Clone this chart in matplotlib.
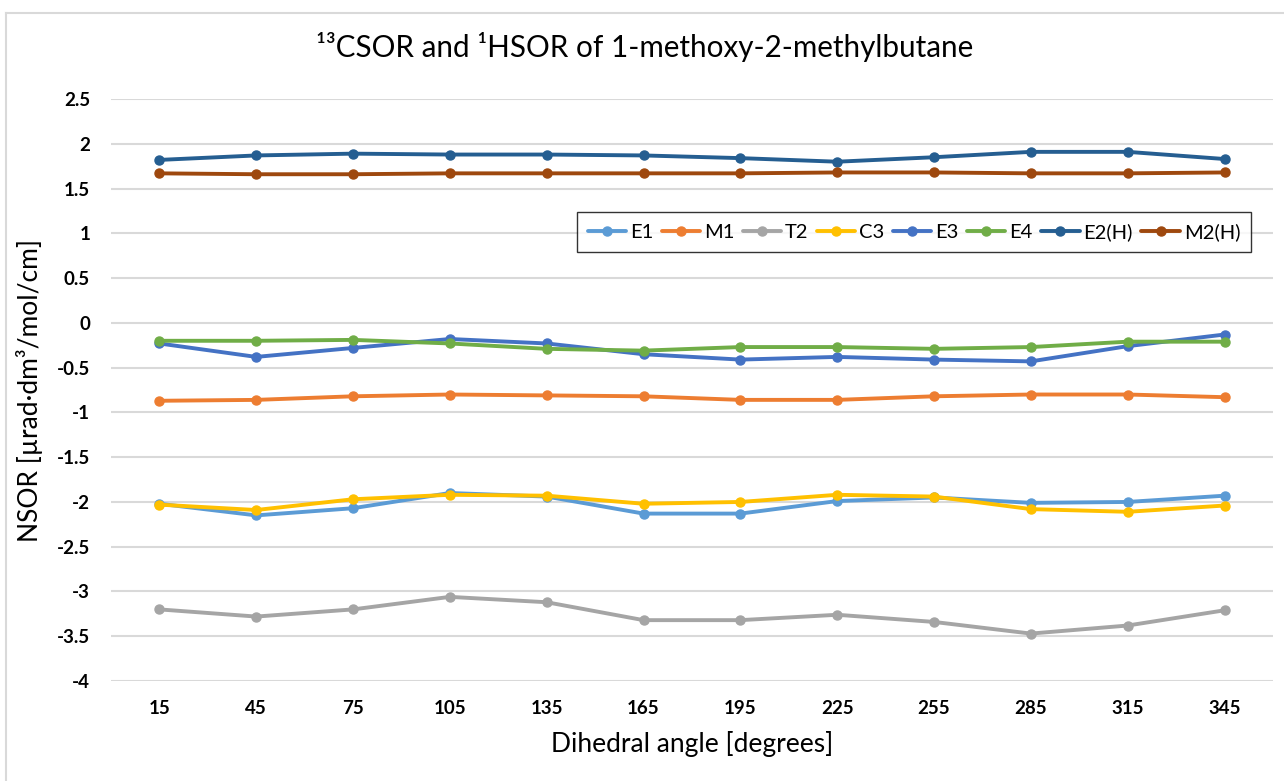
import matplotlib
matplotlib.use("Agg")
import matplotlib.pyplot as plt
from matplotlib.lines import Line2D

plt.rcParams['font.family'] = ['Lato', 'DejaVu Sans']

angles = ['15', '45', '75', '105', '135', '165', '195', '225', '255', '285', '315', '345']

e1 = [-2.02, -2.15, -2.07, -1.90, -1.94, -2.13, -2.13, -1.99, -1.95, -2.01, -2.00, -1.93]
m1 = [-0.87, -0.86, -0.82, -0.80, -0.81, -0.82, -0.86, -0.86, -0.82, -0.80, -0.80, -0.83]
t2 = [-3.20, -3.28, -3.20, -3.06, -3.12, -3.32, -3.32, -3.26, -3.34, -3.47, -3.38, -3.21]
c3 = [-2.03, -2.09, -1.97, -1.92, -1.93, -2.02, -2.00, -1.92, -1.94, -2.08, -2.11, -2.04]
e3 = [-0.23, -0.38, -0.28, -0.18, -0.23, -0.35, -0.41, -0.38, -0.41, -0.43, -0.26, -0.13]
e4 = [-0.20, -0.20, -0.19, -0.23, -0.29, -0.31, -0.27, -0.27, -0.29, -0.27, -0.21, -0.21]
e2h = [1.82, 1.87, 1.89, 1.88, 1.88, 1.87, 1.84, 1.80, 1.85, 1.91, 1.91, 1.83]
m2h = [1.67, 1.66, 1.66, 1.67, 1.67, 1.67, 1.67, 1.68, 1.68, 1.67, 1.67, 1.68]

series = [
    ('E1', e1, '#5B9BD5'),
    ('M1', m1, '#ED7D31'),
    ('T2', t2, '#A5A5A5'),
    ('C3', c3, '#FFC000'),
    ('E3', e3, '#4472C4'),
    ('E4', e4, '#70AD47'),
    ('E2(H)', e2h, '#255E91'),
    ('M2(H)', m2h, '#9E480E'),
]

fig = plt.figure(figsize=(12.84, 7.81), dpi=100)
ax = fig.add_axes((0.0864, 0.128, 0.905, 0.7452))

x = list(range(len(angles)))
for name, vals, col in series:
    ax.plot(x, vals, color=col, lw=2.8, marker='o', ms=6.5, label=name,
            solid_capstyle='round', zorder=3)

ax.set_xlim(-0.5, len(angles) - 0.5)
ax.set_ylim(-4, 2.5)
ax.set_yticks([2.5, 2, 1.5, 1, 0.5, 0, -0.5, -1, -1.5, -2, -2.5, -3, -3.5, -4])
ax.set_yticklabels(['2.5', '2', '1.5', '1', '0.5', '0', '-0.5', '-1', '-1.5',
                    '-2', '-2.5', '-3', '-3.5', '-4'])
ax.set_xticks(x)
ax.set_xticklabels(angles)
ax.grid(axis='y', color='#D9D9D9', lw=1.5, zorder=0)
for s in ax.spines.values():
    s.set_visible(False)
ax.tick_params(length=0, labelsize=13.5, colors='black')
ax.tick_params(axis='x', pad=14)
ax.tick_params(axis='y', pad=15)
for lab in ax.get_xticklabels() + ax.get_yticklabels():
    lab.set_fontweight('bold')

ax.set_xlabel('Dihedral angle [degrees]', fontsize=19, labelpad=10)
ax.set_ylabel('NSOR [µrad·dm³/mol/cm]', fontsize=19, labelpad=10)

fig.text(0.502, 0.94, '¹³CSOR and ¹HSOR of 1-methoxy-2-methylbutane',
         ha='center', va='center', fontsize=21.3)

leg = ax.legend(loc='center', bbox_to_anchor=(0.691, 0.772), ncol=8,
                fontsize=14.5, frameon=True, fancybox=False, edgecolor='black',
                handlelength=1.9, handletextpad=0.2, columnspacing=0.42,
                borderpad=0.55)
leg.get_frame().set_linewidth(1.0)

# chart area border (top and left edges visible)
fig.add_artist(Line2D([0.0047, 1.0], [0.9834, 0.9834], color='#D9D9D9', lw=1.5))
fig.add_artist(Line2D([0.0047, 0.0047], [0.0, 0.9834], color='#D9D9D9', lw=1.5))

fig.savefig('out.png', dpi=100)
